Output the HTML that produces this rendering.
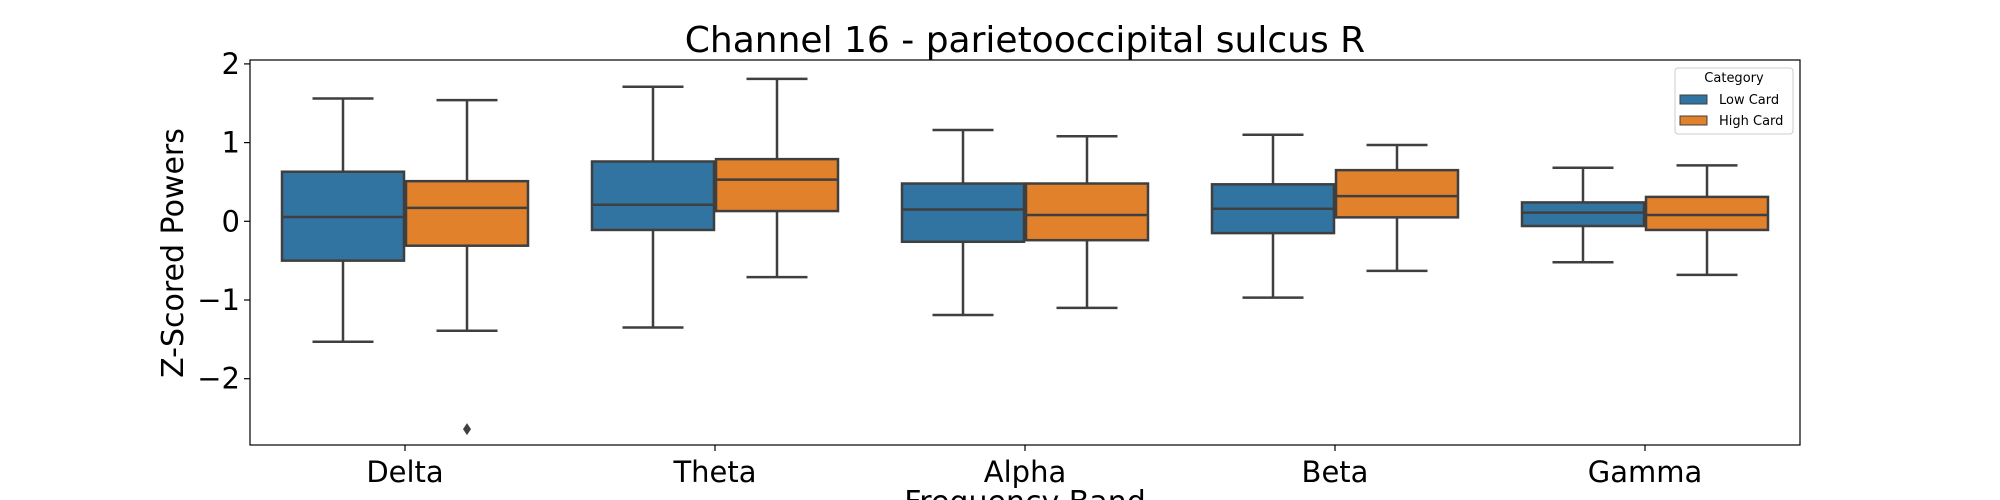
<!DOCTYPE html>
<html><head><meta charset="utf-8"><style>
html,body{margin:0;padding:0;background:#fff;}
svg{display:block;font-family:"DejaVu Sans","Liberation Sans",sans-serif;}
</style></head><body>
<svg id="chart" width="2000" height="500">
<text x="1025" y="52" font-size="36" text-anchor="middle">Channel 16 - parietooccipital sulcus R</text>
<g id="plot"></g>
<text transform="translate(183,253) rotate(-90)" font-size="30" text-anchor="middle">Z-Scored Powers</text>
<text x="1025" y="512" font-size="30" text-anchor="middle">Frequency Band</text>
<g>
<rect x="1675" y="68" width="118" height="66" rx="3" fill="#fff" stroke="#ccc"/>
<text x="1734" y="82" font-size="13" text-anchor="middle">Category</text>
<rect x="1680" y="95" width="27" height="9" fill="#3274a1" stroke="#3f3f3f"/>
<text x="1719" y="104" font-size="13">Low Card</text>
<rect x="1680" y="116" width="27" height="9" fill="#e1812c" stroke="#3f3f3f"/>
<text x="1719" y="125" font-size="13">High Card</text>
</g>
</svg>
<script>
const categories=["Delta","Theta","Alpha","Beta","Gamma"];
const lowMin=[-1.53,-1.35,-1.19,-0.97,-0.52];
const lowQ1=[-0.50,-0.11,-0.26,-0.15,-0.06];
const lowMed=[0.055,0.21,0.15,0.16,0.11];
const lowQ3=[0.63,0.76,0.48,0.47,0.24];
const lowMax=[1.56,1.71,1.16,1.10,0.68];
const highMin=[-1.39,-0.71,-1.10,-0.63,-0.68];
const highQ1=[-0.31,0.13,-0.24,0.05,-0.11];
const highMed=[0.17,0.53,0.08,0.32,0.08];
const highQ3=[0.51,0.79,0.48,0.65,0.31];
const highMax=[1.54,1.81,1.08,0.97,0.71];
const outlierCat=[0];
const outlierVal=[-2.64];
const yTicks=[-2,-1,0,1,2];
const tickLabels=["\u22122","\u22121","0","1","2"];

const L=250,R=1800,T=60,B=445;
const y=v=>221.3-v*78.7;
const band=(R-L)/categories.length;
const xc=i=>L+band*(i+0.5);
const NS="http://www.w3.org/2000/svg";
const g=document.getElementById('plot');
function mk(t,a){const e=document.createElementNS(NS,t);for(const k in a)e.setAttribute(k,a[k]);g.appendChild(e);return e;}
const frame=mk('rect',{x:L,y:T,width:R-L,height:B-T,fill:'none',stroke:'#000','stroke-width':1.2});


yTicks.forEach((v,i)=>{
 const tk=mk('line',{x1:L-6,x2:L,y1:y(v),y2:y(v),stroke:'#000','stroke-width':1.2});
 
 
 const t=mk('text',{x:L-10,y:y(v)+10,'font-size':29,'text-anchor':'end'});
 t.textContent=tickLabels[i];
 
 
});
const bw=band*0.4-2;
function box(cx,mn,q1,md,q3,mx,color,name){
 const s='#3f3f3f';
 const w1=mk('line',{x1:cx,x2:cx,y1:y(q3),y2:y(mx),stroke:s,'stroke-width':2.5});
 
 
 const w2=mk('line',{x1:cx,x2:cx,y1:y(q1),y2:y(mn),stroke:s,'stroke-width':2.5});
 
 
 const c1=mk('line',{x1:cx-bw/4,x2:cx+bw/4,y1:y(mx),y2:y(mx),stroke:s,'stroke-width':2.5});
 
 
 const c2=mk('line',{x1:cx-bw/4,x2:cx+bw/4,y1:y(mn),y2:y(mn),stroke:s,'stroke-width':2.5});
 
 
 const r=mk('rect',{x:cx-bw/2,y:y(q3),width:bw,height:y(q1)-y(q3),fill:color,stroke:s,'stroke-width':2.5});
 
 
 const m=mk('line',{x1:cx-bw/2,x2:cx+bw/2,y1:y(md),y2:y(md),stroke:s,'stroke-width':2.5});
 
 
}
categories.forEach((c,i)=>{
 const cx=xc(i);
 box(cx-band*0.2,lowMin[i],lowQ1[i],lowMed[i],lowQ3[i],lowMax[i],'#3274a1',c.toLowerCase()+'-low');
 box(cx+band*0.2,highMin[i],highQ1[i],highMed[i],highQ3[i],highMax[i],'#e1812c',c.toLowerCase()+'-high');
 const tk=mk('line',{x1:cx,x2:cx,y1:B,y2:B+6,stroke:'#000','stroke-width':1.2});
 
 
 const t=mk('text',{x:cx,y:B+37,'font-size':29,'text-anchor':'middle'});
 t.textContent=c;
 
 
});
outlierCat.forEach((ci,k)=>{
 const cx=xc(ci)+band*0.2, cy=y(outlierVal[k]);
 const p=mk('path',{d:`M${cx} ${cy-6} L${cx+4} ${cy} L${cx} ${cy+6} L${cx-4} ${cy} Z`,fill:'#3f3f3f'});
 
 
});
</script>
</body></html>
